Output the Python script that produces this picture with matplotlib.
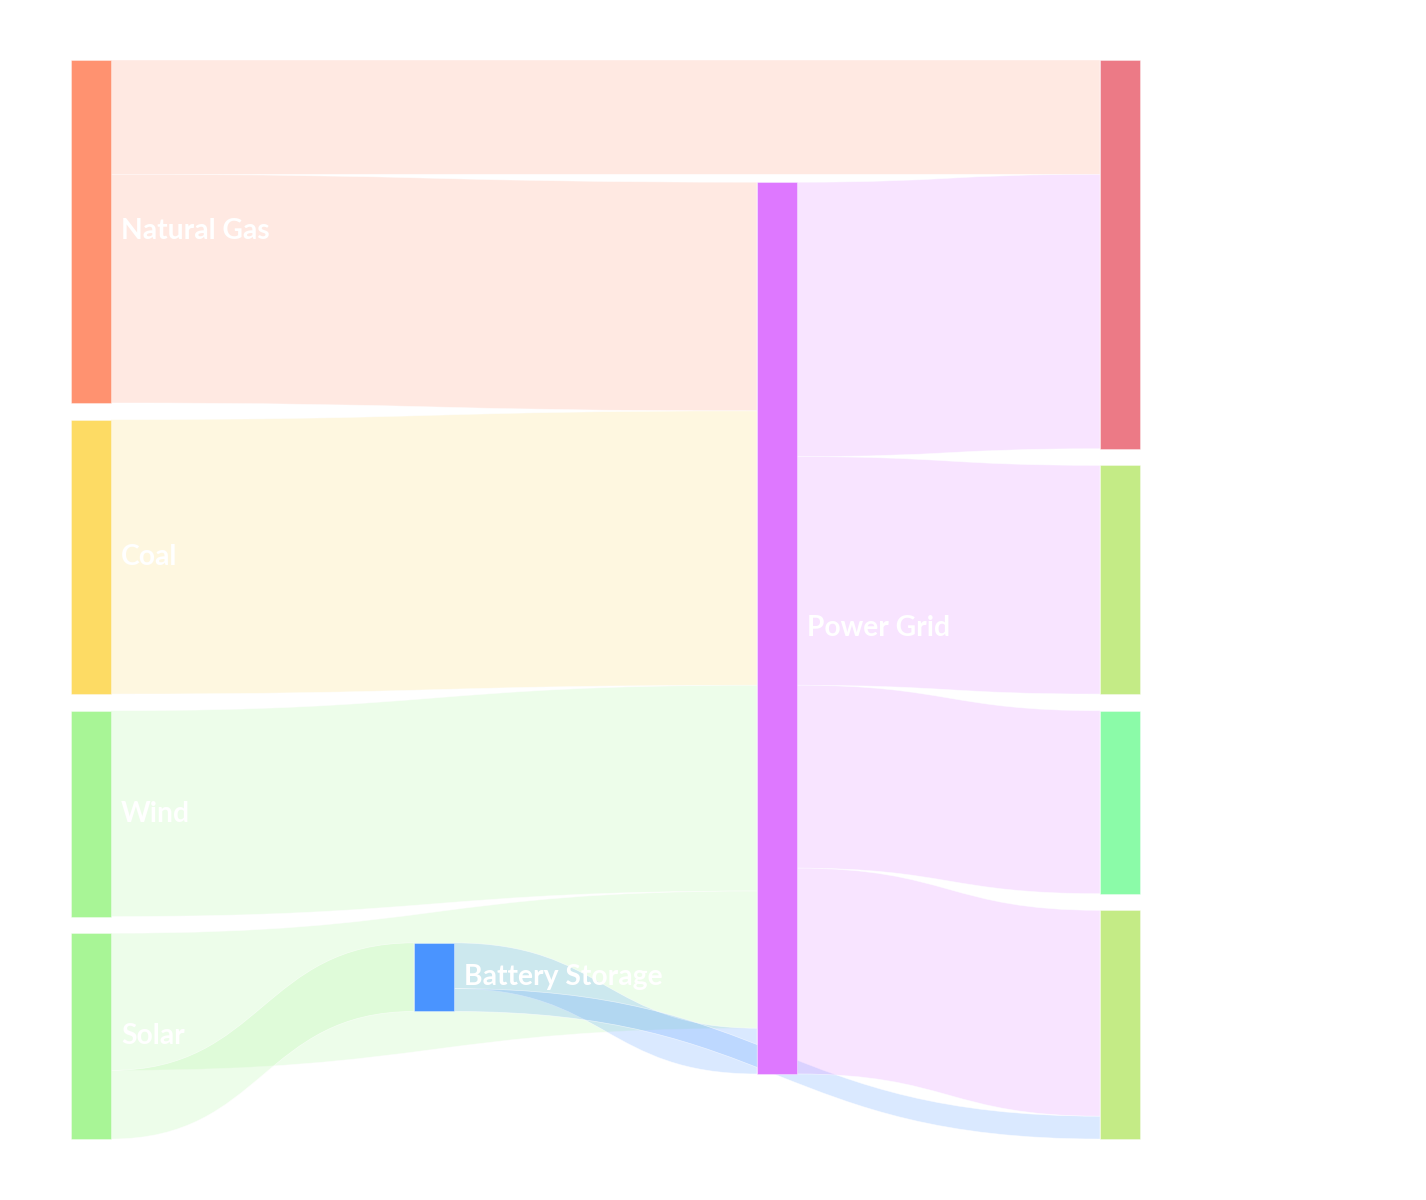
import matplotlib.pyplot as plt
from matplotlib.path import Path
from matplotlib.patches import PathPatch, Rectangle
from matplotlib.colors import to_rgba

# nodes
labels = ['Natural Gas', 'Coal', 'Wind', 'Solar', 'Battery Storage', 'Power Grid', '', '', '', '']
node_colors = ['#FF9270', '#FDDB64', '#A8F596', '#A8F596', '#4A94FF', '#DE78FF',
               '#EC7A86', '#C4EB86', '#8BFBA8', '#C4EB86']
node_col = [0, 0, 0, 0, 1, 2, 3, 3, 3, 3]
# vertical centre (fraction of plot height) for nodes alone in their column
node_center = {4: 0.85, 5: 0.5265}

# links
sources = [0, 0, 1, 2, 3, 3, 4, 4, 5, 5, 5, 5]
targets = [6, 5, 5, 5, 5, 4, 5, 9, 6, 7, 8, 9]
values = [50, 100, 120, 90, 60, 30, 20, 10, 120, 100, 80, 90]

W, H = 1426, 1200
top, bottom = 60, 1139
left, right = 71, 1140
node_w = 40
pad = 16.7
n = len(labels)

node_in = [0] * n
node_out = [0] * n
for s, t, v in zip(sources, targets, values):
    node_out[s] += v
    node_in[t] += v
node_val = [max(a, b) for a, b in zip(node_in, node_out)]

ncols = max(node_col) + 1
cols = [[i for i in range(n) if node_col[i] == c] for c in range(ncols)]
scale = min((bottom - top - (len(c) - 1) * pad) / sum(node_val[i] for i in c) for c in cols)

x0 = [0.0] * n
y0 = [0.0] * n
h = [node_val[i] * scale for i in range(n)]
for c, members in enumerate(cols):
    xc = left + c * (right - node_w - left) / (ncols - 1)
    if len(members) == 1:
        i = members[0]
        x0[i] = xc
        y0[i] = top + node_center[i] * (bottom - top) - h[i] / 2
    else:
        y = top
        for i in members:
            x0[i] = xc
            y0[i] = y
            y += h[i] + pad

# offsets of each link at source and target
order = list(range(len(values)))
src_y = {}
tgt_y = {}
for i in range(n):
    outs = sorted([k for k in order if sources[k] == i], key=lambda k: y0[targets[k]])
    y = y0[i]
    for k in outs:
        src_y[k] = y
        y += values[k] * scale
    ins = sorted([k for k in order if targets[k] == i], key=lambda k: y0[sources[k]])
    y = y0[i]
    for k in ins:
        tgt_y[k] = y
        y += values[k] * scale

fig = plt.figure(figsize=(W / 100, H / 100), dpi=100)
ax = fig.add_axes([0, 0, 1, 1])
ax.set_xlim(0, W)
ax.set_ylim(H, 0)
ax.axis('off')

for k in order:
    s, t, v = sources[k], targets[k], values[k]
    xa = x0[s] + node_w
    xb = x0[t]
    xm = (xa + xb) / 2
    w = v * scale
    ya, yb = src_y[k], tgt_y[k]
    verts = [(xa, ya), (xm, ya), (xm, yb), (xb, yb),
             (xb, yb + w),
             (xm, yb + w), (xm, ya + w), (xa, ya + w),
             (xa, ya)]
    codes = [Path.MOVETO, Path.CURVE4, Path.CURVE4, Path.CURVE4,
             Path.LINETO,
             Path.CURVE4, Path.CURVE4, Path.CURVE4,
             Path.CLOSEPOLY]
    ax.add_patch(PathPatch(Path(verts, codes), facecolor=to_rgba(node_colors[s], 0.2),
                           edgecolor=(1, 1, 1, 0.6), lw=0.5))

for i in range(n):
    ax.add_patch(Rectangle((x0[i], y0[i]), node_w, h[i], facecolor=node_colors[i],
                           edgecolor=(1, 1, 1, 0.5), lw=0.5))
    if labels[i]:
        ax.text(x0[i] + node_w + 10, y0[i] + h[i] / 2, labels[i], color='white',
                fontsize=20.3, fontfamily='Lato', fontweight='bold', va='center', ha='left')

fig.savefig('out.png', dpi=100, facecolor='white')
